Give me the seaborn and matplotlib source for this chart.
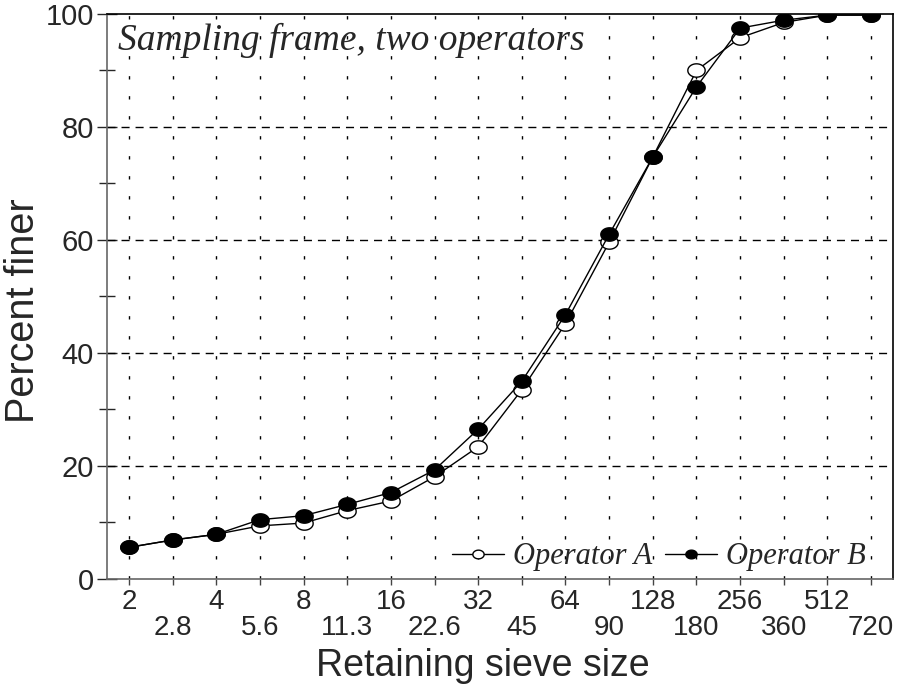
import matplotlib
matplotlib.use("Agg")
import matplotlib.pyplot as plt
import numpy as np
import pandas as pd
import seaborn as sns
from matplotlib.ticker import MultipleLocator

# sieve sizes (mm) and percent finer for each operator
sizes = ["2", "2.8", "4", "5.6", "8", "11.3", "16", "22.6", "32", "45",
         "64", "90", "128", "180", "256", "360", "512", "720"]
operator_a = [5.6, 6.9, 7.9, 9.4, 9.9, 12.1, 13.8, 18.1, 23.4, 33.5,
              45.2, 59.6, 74.7, 90.0, 95.8, 98.5, 99.8, 99.8]
operator_b = [5.6, 6.9, 7.9, 10.5, 11.2, 13.2, 15.3, 19.3, 26.5, 35.0,
              46.8, 61.0, 74.7, 87.1, 97.5, 98.9, 99.8, 99.8]

df = pd.DataFrame({"size": sizes, "A": operator_a, "B": operator_b})

sns.set_style("white")
plt.rcParams["font.family"] = ["Liberation Sans", "DejaVu Sans"]

fig = plt.figure(figsize=(9.04, 6.98), dpi=100)
ax = fig.add_axes([0.1184, 0.1705, 0.8694, 0.8095])

# slightly flattened circle marker
t = np.linspace(0, 2 * np.pi, 60)
ellipse = list(zip(np.cos(t), 0.77 * np.sin(t)))

sns.lineplot(data=df, x="size", y="A", ax=ax, sort=False, errorbar=None,
             color="black", lw=1, marker=ellipse, markersize=12.5,
             mfc="white", mec="black", mew=1, label="Operator A", zorder=3)
sns.lineplot(data=df, x="size", y="B", ax=ax, sort=False, errorbar=None,
             color="black", lw=1, marker=ellipse, markersize=12.5,
             mfc="black", mec="black", mew=1, label="Operator B", zorder=4)

ax.set_xlim(-0.5, len(sizes) - 0.5)
ax.set_ylim(0, 100)

# grid: short dotted verticals, dashed horizontals
for i in range(len(sizes)):
    ax.axvline(i, color="black", lw=1, ls=(0, (2.4, 12.0)), zorder=1)
for v in [20, 40, 60, 80]:
    ax.axhline(v, color="black", lw=1, ls=(0, (5.8, 4.3)), zorder=1)

ax.yaxis.set_major_locator(MultipleLocator(20))
ax.yaxis.set_minor_locator(MultipleLocator(10))
ax.tick_params(axis="y", which="major", direction="inout", length=15,
               width=1, labelsize=21, pad=2, left=True)
ax.tick_params(axis="y", which="minor", direction="inout", length=11,
               width=1, left=True)
ax.tick_params(axis="x", direction="out", length=4, width=1,
               color="#444444", labelsize=20, bottom=True)

for i, tk in enumerate(ax.xaxis.get_major_ticks()):
    tk.set_pad(3 if i % 2 == 0 else 22)

ax.set_xlabel("Retaining sieve size", fontsize=27)
ax.set_ylabel("Percent finer", fontsize=28.5)
ax.xaxis.set_label_coords(0.478, -0.122)
ax.yaxis.set_label_coords(-0.083, 0.474)

for side in ["left", "bottom"]:
    ax.spines[side].set_color("#666666")
    ax.spines[side].set_linewidth(1.2)
for side in ["top", "right"]:
    ax.spines[side].set_color("black")
    ax.spines[side].set_linewidth(1.2)

ax.text(0.014, 0.985, "Sampling frame, two operators", transform=ax.transAxes,
        ha="left", va="top", fontsize=27, style="italic",
        family=["Liberation Serif", "DejaVu Serif"])

ax.legend(loc="lower right", bbox_to_anchor=(1.0, -0.035), ncol=2,
          frameon=False, markerscale=0.65, handlelength=1.7,
          handletextpad=0.3, columnspacing=0.4,
          prop={"family": ["Liberation Serif", "DejaVu Serif"],
                "style": "italic", "size": 22})

fig.savefig("out.png", dpi=100)
